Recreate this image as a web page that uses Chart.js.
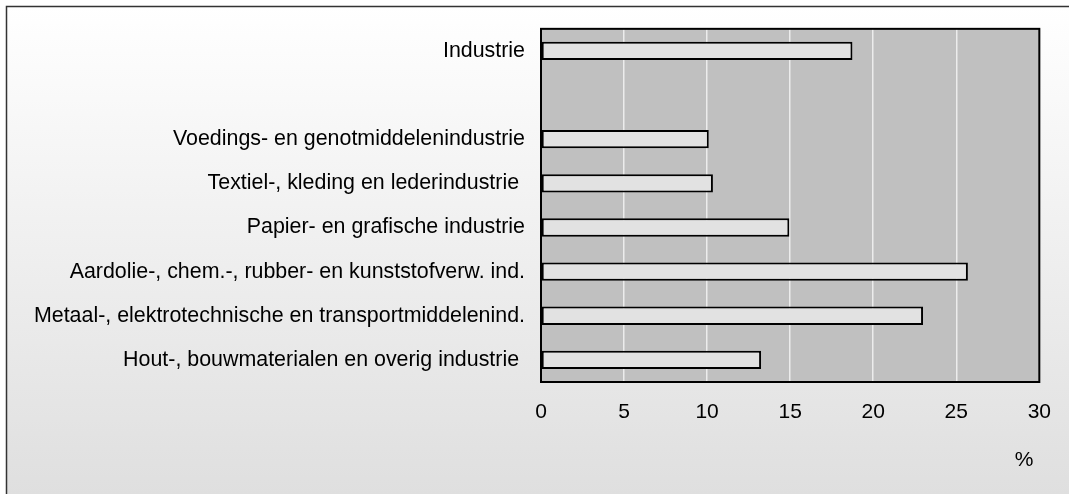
<!DOCTYPE html>
<html>
<head>
<meta charset="utf-8">
<script src="https://cdn.jsdelivr.net/npm/chart.js@4"></script>
<style>
html,body{margin:0;padding:0;background:#fff;}
canvas{display:block;}
</style>
</head>
<body>
<canvas id="c" width="1069" height="494"></canvas>
<script>
const categories = [
  "Industrie",
  "",
  "Voedings- en genotmiddelenindustrie",
  "Textiel-, kleding en lederindustrie ",
  "Papier- en grafische industrie",
  "Aardolie-, chem.-, rubber- en kunststofverw. ind.",
  "Metaal-, elektrotechnische en transportmiddelenind.",
  "Hout-, bouwmaterialen en overig industrie "
];
const values = [18.75, null, 10.1, 10.35, 14.95, 25.7, 23.0, 13.25];
const xTicks = [0, 5, 10, 15, 20, 25, 30];
const axisUnit = "%";

const FONT = "'Liberation Sans', Arial, sans-serif";

const bgPlugin = {
  id: 'bg',
  beforeDraw(chart) {
    const ctx = chart.ctx;
    const W = chart.width, H = chart.height;
    ctx.save();
    ctx.fillStyle = '#ffffff';
    ctx.fillRect(0, 0, W, H);
    const g = ctx.createLinearGradient(0, 6, 0, H);
    g.addColorStop(0, '#ffffff');
    g.addColorStop(1, '#dfdfdf');
    ctx.fillStyle = g;
    ctx.fillRect(6, 6, W, H);
    ctx.strokeStyle = '#333333';
    ctx.lineWidth = 1.5;
    ctx.beginPath();
    ctx.moveTo(6.5, H + 2);
    ctx.lineTo(6.5, 6.5);
    ctx.lineTo(W + 2, 6.5);
    ctx.stroke();
    const a = chart.chartArea;
    ctx.fillStyle = '#c0c0c0';
    ctx.fillRect(a.left, a.top, a.right - a.left, a.bottom - a.top);
    ctx.restore();
  },
  afterDraw(chart) {
    const ctx = chart.ctx;
    const a = chart.chartArea;
    ctx.save();
    ctx.strokeStyle = '#000000';
    ctx.lineWidth = 2;
    ctx.strokeRect(a.left, a.top, a.right - a.left, a.bottom - a.top);
    ctx.restore();
  }
};

new Chart(document.getElementById('c'), {
  type: 'bar',
  data: {
    labels: categories,
    datasets: [{
      data: values,
      backgroundColor: '#e2e2e2',
      borderColor: '#000000',
      borderWidth: 2,
      borderSkipped: false,
      barPercentage: 0.415,
      categoryPercentage: 1.0
    }]
  },
  options: {
    indexAxis: 'y',
    responsive: false,
    animation: false,
    devicePixelRatio: 1,
    layout: { padding: { top: 27, right: 28, left: 0, bottom: 0 } },
    plugins: { legend: { display: false }, tooltip: { enabled: false } },
    scales: {
      x: {
        type: 'linear',
        position: 'bottom',
        min: xTicks[0],
        max: xTicks[xTicks.length - 1],
        afterBuildTicks(scale) { scale.ticks = xTicks.map(v => ({ value: v })); },
        afterFit(scale) { scale.height = 112; },
        ticks: {
          stepSize: 5,
          padding: 18,
          color: '#000000',
          font: { family: FONT, size: 21 }
        },
        grid: { color: '#ececec', lineWidth: 1.5, drawTicks: false },
        border: { display: false },
        title: {
          display: true,
          text: axisUnit + ' ',
          align: 'end',
          color: '#000000',
          font: { family: FONT, size: 21 },
          padding: { top: 0, bottom: 21 }
        }
      },
      y: {
        afterFit(scale) { scale.width = 541; },
        ticks: {
          padding: 16,
          color: '#000000',
          font: { family: FONT, size: 21.4 },
          autoSkip: false
        },
        grid: { display: false, drawTicks: false },
        border: { display: false }
      }
    }
  },
  plugins: [bgPlugin]
});
</script>
</body>
</html>
